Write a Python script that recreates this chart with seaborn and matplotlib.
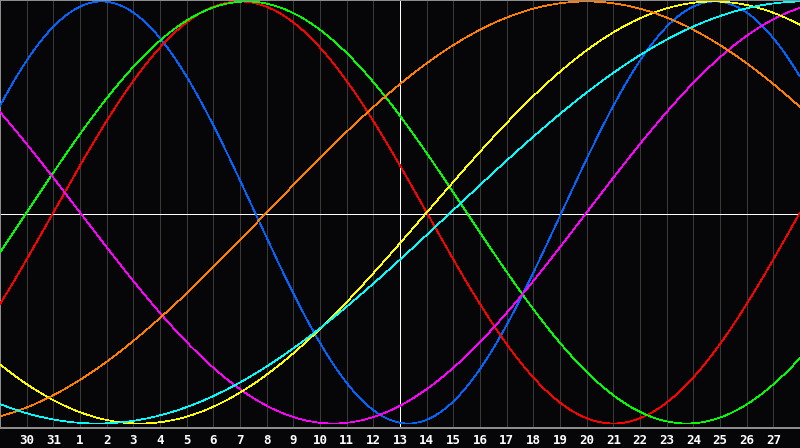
import numpy as np
import pandas as pd
import matplotlib
matplotlib.use("Agg")
import matplotlib.pyplot as plt
import seaborn as sns

# Biorhythm cycles: period (days) and day on which each
# cycle crosses zero going upward (measured from the left edge of the chart)
cycles = ["physical", "emotional", "intellectual", "intuitive",
          "aesthetic", "awareness", "spiritual"]
periods = [23, 28, 33, 38, 43, 48, 53]
zero_up_day = [-1.94, 2.0, 1.0, 22.0, 16.0, 10.0, 16.9]
colors = ["#0066ff", "#ff0000", "#00ff00", "#ff00ff", "#ffff00", "#ff8000", "#00ffff"]

# Day labels along the bottom (grid lines 1..29), today is at index 15
day_labels = ["30", "31", "1", "2", "3", "4", "5", "6", "7", "8", "9", "10",
              "11", "12", "13", "14", "15", "16", "17", "18", "19", "20", "21",
              "22", "23", "24", "25", "26", "27"]
today_index = 15
n_days = 30

t = np.linspace(0, n_days, 1201)
frames = []
for name, p, z in zip(cycles, periods, zero_up_day):
    frames.append(pd.DataFrame({"day": t,
                                "value": np.sin(2 * np.pi * (t - z) / p),
                                "cycle": name}))
df = pd.concat(frames, ignore_index=True)

sns.set_style("dark")
bg = "#060609"
fig = plt.figure(figsize=(8, 4.48), dpi=100, facecolor=bg)
ax = fig.add_axes([0, 20 / 448, 1, 428 / 448])
ax.set_facecolor(bg)

px = 0.72  # one pixel in points at 100 dpi
for d in range(1, n_days):
    ax.axvline(d, color="#3a3a3a", lw=px, zorder=1, antialiased=False)
ax.axvline(today_index, color="white", lw=px, zorder=2, antialiased=False)
ax.axhline(-0.007, color="white", lw=px, zorder=2, antialiased=False)

sns.lineplot(data=df, x="day", y="value", hue="cycle", hue_order=cycles,
             palette=dict(zip(cycles, colors)), linewidth=0.5, legend=False,
             ax=ax, zorder=3, sort=False)
for ln in ax.get_lines()[n_days + 1:]:
    ln.set_antialiased(False)
    ln.set_linewidth(0.5)

ax.set_xlim(0, n_days)
ax.set_ylim(-1.0213, 1.007)
ax.set_xticks(range(1, n_days))
ax.set_xticklabels(day_labels, color="white", fontsize=9, fontweight="bold",
                   family="DejaVu Sans Mono")
ax.set_yticks([])
ax.tick_params(axis="x", length=0, pad=4)
ax.set_xlabel("")
ax.set_ylabel("")
ax.grid(False)
for side in ["left", "top", "bottom"]:
    ax.spines[side].set_visible(True)
    ax.spines[side].set_color("#8c8c8c")
    ax.spines[side].set_linewidth(1.44)
ax.spines["right"].set_visible(False)

fig.savefig("out.png", dpi=100, facecolor=bg)
